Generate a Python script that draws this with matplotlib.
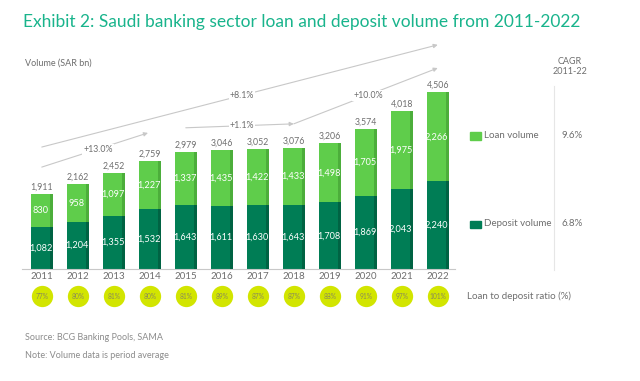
import numpy as np
import matplotlib
matplotlib.use("Agg")
import matplotlib.pyplot as plt
from matplotlib.patches import Rectangle

# -------------------------------
# Data
# -------------------------------
years = ["2011", "2012", "2013", "2014", "2015", "2016",
         "2017", "2018", "2019", "2020", "2021", "2022"]
deposit = [1082, 1204, 1355, 1532, 1643, 1611, 1630, 1643, 1708, 1869, 2043, 2240]
loan = [830, 958, 1097, 1227, 1337, 1435, 1422, 1433, 1498, 1705, 1975, 2266]
totals = [1911, 2162, 2452, 2759, 2979, 3046, 3052, 3076, 3206, 3574, 4018, 4506]
ratio = [77, 80, 81, 80, 81, 89, 87, 87, 88, 91, 97, 101]
cagr_loan = "9.6%"
cagr_deposit = "6.8%"

# growth arrows: (x0, y0, x1, y1, label, label_x, label_y)
arrows = [
    (0, 3110, 11, 5710, "+8.1%", 5.56, 4410),
    (0, 2600, 2.95, 3470, "+13.0%", 1.56, 3040),
    (4.0, 3600, 7.0, 3700, "+1.1%", 5.56, 3650),
    (7.0, 3700, 11, 5120, "+10.0%", 9.06, 4420),
]

# -------------------------------
# Style
# -------------------------------
plt.rcParams['font.family'] = ['Lato', 'DejaVu Sans']
TEAL = "#19b48c"
LOAN = "#5fcd4b"
LOAN_DARK = "#4cae3b"
DEP = "#007d55"
DEP_DARK = "#006343"
CIRCLE = "#d2e500"
GREY = "#6e6e6e"
LINE = "#c8c8c8"

W, H = 640, 381
fig = plt.figure(figsize=(6.4, 3.81), dpi=100)


def fx(x):
    return x / W


def fy(y):
    return 1 - y / H


base_px = 269.3
top_px = 41.3
ax = fig.add_axes([fx(22), fy(base_px), fx(455 - 22), (base_px - top_px) / H])
ax.set_xlim(-0.55, 11.48)
ax.set_ylim(0, 5800)

x = np.arange(len(years))
bw = 0.62
edge = 0.09

ax.bar(x, deposit, width=bw, color=DEP, zorder=2)
ax.bar(x, loan, bottom=deposit, width=bw, color=LOAN, zorder=2)
# darker strip on right side of each bar
ax.bar(x + bw / 2 - edge / 2, deposit, width=edge, color=DEP_DARK, zorder=3)
ax.bar(x + bw / 2 - edge / 2, loan, bottom=deposit, width=edge, color=LOAN_DARK, zorder=3)

for i in range(len(years)):
    ax.text(x[i] - 0.03, deposit[i] / 2, f"{deposit[i]:,}", ha="center", va="center",
            color="white", fontsize=6.6, zorder=4)
    ax.text(x[i] - 0.03, deposit[i] + loan[i] / 2, f"{loan[i]:,}", ha="center", va="center",
            color="white", fontsize=6.6, zorder=4)
    ax.text(x[i], totals[i] + 60, f"{totals[i]:,}", ha="center", va="bottom",
            color=GREY, fontsize=6.3, zorder=4)

# loan to deposit ratio circles
circ_y = -680
ax.scatter(x, [circ_y] * len(x), s=235, color=CIRCLE, clip_on=False, zorder=4,
           linewidths=0)
for i in range(len(years)):
    ax.text(x[i], circ_y, f"{ratio[i]}%", ha="center", va="center",
            color="#8a8a5a", fontsize=4.8, zorder=5, clip_on=False)

# growth arrows
for x0, y0, x1, y1, lab, lx, ly in arrows:
    ax.annotate("", xy=(x1, y1), xytext=(x0, y0),
                arrowprops=dict(arrowstyle="-|>", color=LINE, lw=0.8,
                                mutation_scale=6, shrinkA=0, shrinkB=0),
                annotation_clip=False, zorder=1)
    ax.text(lx, ly, lab, ha="center", va="center", color=GREY, fontsize=6.3,
            bbox=dict(facecolor="white", edgecolor="none", pad=0.6), zorder=1.5)

ax.set_xticks(x)
ax.set_xticklabels(years, fontsize=7, color=GREY)
ax.tick_params(axis="x", length=0, pad=2)
ax.set_yticks([])
for s in ["top", "right", "left"]:
    ax.spines[s].set_visible(False)
ax.spines["bottom"].set_color(LINE)
ax.spines["bottom"].set_linewidth(0.8)

# -------------------------------
# Titles and side texts
# -------------------------------
fig.text(fx(23), fy(21.5), "Exhibit 2: Saudi banking sector loan and deposit volume from 2011-2022",
         color=TEAL, fontsize=12.5, ha="left", va="center")
fig.text(fx(25), fy(63), "Volume (SAR bn)", color=GREY, fontsize=6.5, ha="left", va="center")
fig.text(fx(570), fy(62), "CAGR", color=GREY, fontsize=6.5, ha="center", va="center")
fig.text(fx(570), fy(72), "2011-22", color=GREY, fontsize=6.5, ha="center", va="center")

fig.add_artist(plt.Line2D([fx(554), fx(554)], [fy(86), fy(270)], color="#e6e6e6", lw=0.8))

# legend
fig.add_artist(Rectangle((fx(470), fy(139.5)), fx(10.5), 7 / H, color=LOAN))
fig.text(fx(484), fy(136), "Loan volume", color=GREY, fontsize=7, ha="left", va="center")
fig.add_artist(Rectangle((fx(470), fy(227.5)), fx(10.5), 7 / H, color=DEP))
fig.text(fx(484), fy(224), "Deposit volume", color=GREY, fontsize=7, ha="left", va="center")
fig.text(fx(561), fy(135), cagr_loan, color=GREY, fontsize=7, ha="left", va="center")
fig.text(fx(561), fy(223), cagr_deposit, color=GREY, fontsize=7, ha="left", va="center")

fig.text(fx(467), fy(296), "Loan to deposit ratio (%)", color=GREY, fontsize=7, ha="left", va="center")

fig.text(fx(25), fy(337), "Source: BCG Banking Pools, SAMA", color="#8c8c8c", fontsize=6.5,
         ha="left", va="center")
fig.text(fx(25), fy(355), "Note: Volume data is period average", color="#8c8c8c", fontsize=6.5,
         ha="left", va="center")

fig.savefig("out.png", dpi=100)
